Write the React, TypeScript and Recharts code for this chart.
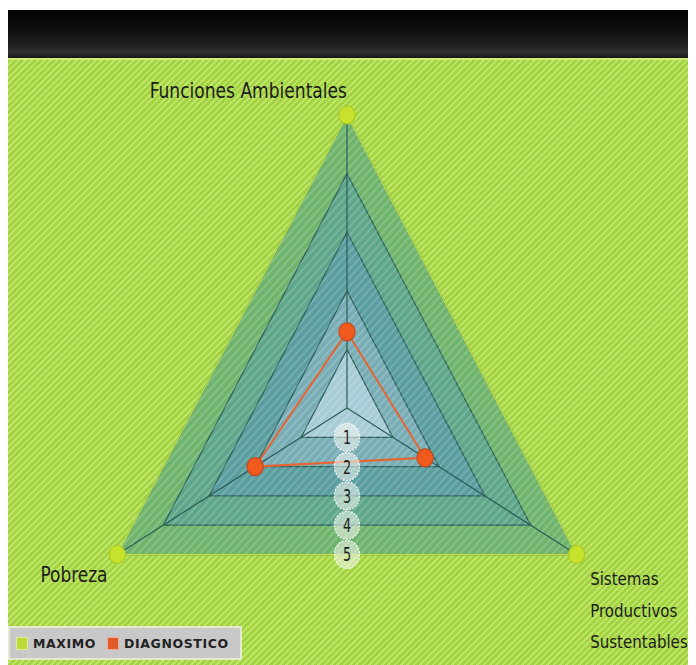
import {
    PolarAngleAxis,
    PolarRadiusAxis,
    Radar,
    RadarChart,
} from "recharts";

const categories = [
    "Funciones Ambientales",
    "Sistemas Productivos Sustentables",
    "Pobreza",
];
const maximo = [5, 5, 5];
const diagnostico = [1.3, 1.7, 2.0];
const levels = [5, 4, 3, 2, 1];
const levelColors = ["#6fb46c", "#5ea689", "#5a9ea0", "#78adb6", "#a8ccd6"];
const seriesNames = ["maximo", "diagnostico"];
const seriesColors = ["#bcd93a", "#e2592a"];

const data = categories.map((eje, i) => {
    const row: any = { eje, maximo: maximo[i], diagnostico: diagnostico[i] };
    levels.forEach((l) => (row[`nivel${l}`] = l));
    return row;
});

const CX = 339;
const CY = 350;
const FONT = "'DejaVu Sans Condensed', 'Liberation Sans Narrow', sans-serif";

function AngleTick(props: any) {
    const { x, y, payload } = props;
    const label: string = payload.value;
    const common = {
        fontFamily: FONT,
        fontSize: 21,
        fill: "#1c1c1c",
        lengthAdjust: "spacingAndGlyphs" as const,
    };
    if (label === categories[0]) {
        return (
            <text {...common} x={x} y={y - 9} textAnchor="end" textLength={218}>
                {label}
            </text>
        );
    }
    if (label === categories[2]) {
        return (
            <text {...common} x={x - 4} y={y + 24} textAnchor="end" textLength={74}>
                {label}
            </text>
        );
    }
    const words = label.split(" ");
    return (
        <g>
            {words.map((w, i) => (
                <text
                    key={w}
                    fontFamily={FONT}
                    fontSize={18.5}
                    fill="#1c1c1c"
                    x={x + 8}
                    y={y + 27 + i * 31.5}
                    textAnchor="start"
                >
                    {w}
                </text>
            ))}
        </g>
    );
}

function LevelTick(props: any) {
    const { x, y, payload } = props;
    if (!payload || payload.value === 0) return null;
    const cy = props.cy ?? CY;
    const by = cy + (y - cy) / 2;
    return (
        <g>
            <circle
                cx={x}
                cy={by}
                r={14}
                fill="rgba(245,248,240,0.55)"
                stroke="rgba(255,255,255,0.95)"
                strokeWidth={1.2}
                strokeDasharray="2 1.5"
            />
            <text
                x={x}
                y={by + 7}
                textAnchor="middle"
                fontFamily={FONT}
                fontSize={19}
                fill="#1e1e1e"
                textLength={9}
                lengthAdjust="spacingAndGlyphs"
            >
                {payload.value}
            </text>
        </g>
    );
}

function StripeShape(props: any) {
    const pts = props.points || [];
    if (!pts.length) return null;
    const cx = pts[0].cx ?? CX;
    const cy = pts[0].cy ?? CY;
    const d = pts.map((p: any, i: number) => `${i ? "L" : "M"}${p.x},${p.y}`).join(" ") + "Z";
    return (
        <g>
            <path d={d} fill="url(#stripes)" stroke="none" />
            {pts.map((p: any, i: number) => (
                <line
                    key={i}
                    x1={cx}
                    y1={cy}
                    x2={p.x}
                    y2={p.y}
                    stroke="#2a5c56"
                    strokeWidth={1.3}
                />
            ))}
        </g>
    );
}

function Dot(color: string, edge: string) {
    return (props: any) => (
        <circle
            key={props.index}
            cx={props.cx}
            cy={props.cy}
            r={9}
            fill={color}
            stroke={edge}
            strokeWidth={1.2}
        />
    );
}

export default function App() {
    return (
        <div style={{ position: "relative", width: 688, height: 657, background: "#fff" }}>
            <div
                style={{
                    position: "absolute",
                    top: 2,
                    left: 0,
                    width: 688,
                    height: 48,
                    background:
                        "linear-gradient(#020202 0%, #0d0d0d 40%, #262626 80%, #333 88%, #151515 100%)",
                }}
            />
            <div
                style={{
                    position: "absolute",
                    top: 50,
                    left: 0,
                    width: 688,
                    height: 607,
                    overflow: "hidden",
                    borderTop: "2px solid #d2ec78",
                    boxSizing: "border-box",
                    background:
                        "repeating-linear-gradient(135deg, #a3d343 0px, #a3d343 2.6px, #bde566 2.6px, #bde566 4.5px)",
                }}
            >
                <div style={{ position: "absolute", top: -2, left: 0, transform: "scaleX(0.905)", transformOrigin: `${CX}px 0` }}>
                    <RadarChart
                        width={740}
                        height={607}
                        data={data}
                        cx={CX}
                        cy={CY}
                        outerRadius={293}
                        margin={{ top: 0, right: 0, bottom: 0, left: 0 }}
                    >
                        <defs>
                            <pattern
                                id="stripes"
                                width={6}
                                height={6}
                                patternUnits="userSpaceOnUse"
                                patternTransform="rotate(45)"
                            >
                                <rect width={2} height={6} fill="rgba(255,255,255,0.17)" />
                            </pattern>
                        </defs>
                        <PolarAngleAxis
                            dataKey="eje"
                            tick={<AngleTick />}
                            axisLine={false}
                            tickLine={false}
                        />
                        {levels.map((l, i) => (
                            <Radar
                                key={l}
                                dataKey={`nivel${l}`}
                                fill={levelColors[i]}
                                fillOpacity={1}
                                stroke="#2c615a"
                                strokeWidth={1.3}
                                dot={false}
                                legendType="none"
                                isAnimationActive={false}
                            />
                        ))}
                        <Radar
                            dataKey="nivel5"
                            shape={<StripeShape />}
                            dot={false}
                            legendType="none"
                            isAnimationActive={false}
                        />
                        <Radar
                            dataKey="maximo"
                            name="maximo"
                            fill="none"
                            fillOpacity={0}
                            stroke="#bfe04a"
                            strokeWidth={1.5}
                            dot={Dot("#c7e22c", "#a8c81e")}
                            isAnimationActive={false}
                        />
                        <Radar
                            dataKey="diagnostico"
                            name="diagnostico"
                            fill="none"
                            fillOpacity={0}
                            stroke="#e8642e"
                            strokeWidth={2}
                            dot={Dot("#f05a1c", "#c9461a")}
                            isAnimationActive={false}
                        />
                        <PolarRadiusAxis
                            angle={-90}
                            domain={[0, 5]}
                            tickCount={6}
                            axisLine={false}
                            tickLine={false}
                            tick={<LevelTick />}
                        />
                    </RadarChart>
                </div>
                <div
                    style={{
                        position: "absolute",
                        left: 0,
                        top: 566,
                        width: 234,
                        height: 34,
                        boxSizing: "border-box",
                        background: "#c8c8c8",
                        border: "2px solid #e4ead0",
                        display: "flex",
                        alignItems: "center",
                        paddingLeft: 6,
                        fontFamily: "'DejaVu Sans', sans-serif",
                        fontWeight: "bold",
                        fontSize: 12.5,
                        letterSpacing: 0.6,
                        color: "#222",
                    }}
                >
                    {seriesNames.map((n, i) => (
                        <span key={n} style={{ display: "flex", alignItems: "center", marginRight: 11 }}>
                            <span
                                style={{
                                    width: 10,
                                    height: 11,
                                    background: seriesColors[i],
                                    border: "1px solid rgba(255,255,255,0.5)",
                                    marginRight: 5,
                                    display: "inline-block",
                                }}
                            />
                            {n.toUpperCase()}
                        </span>
                    ))}
                </div>
            </div>
        </div>
    );
}
